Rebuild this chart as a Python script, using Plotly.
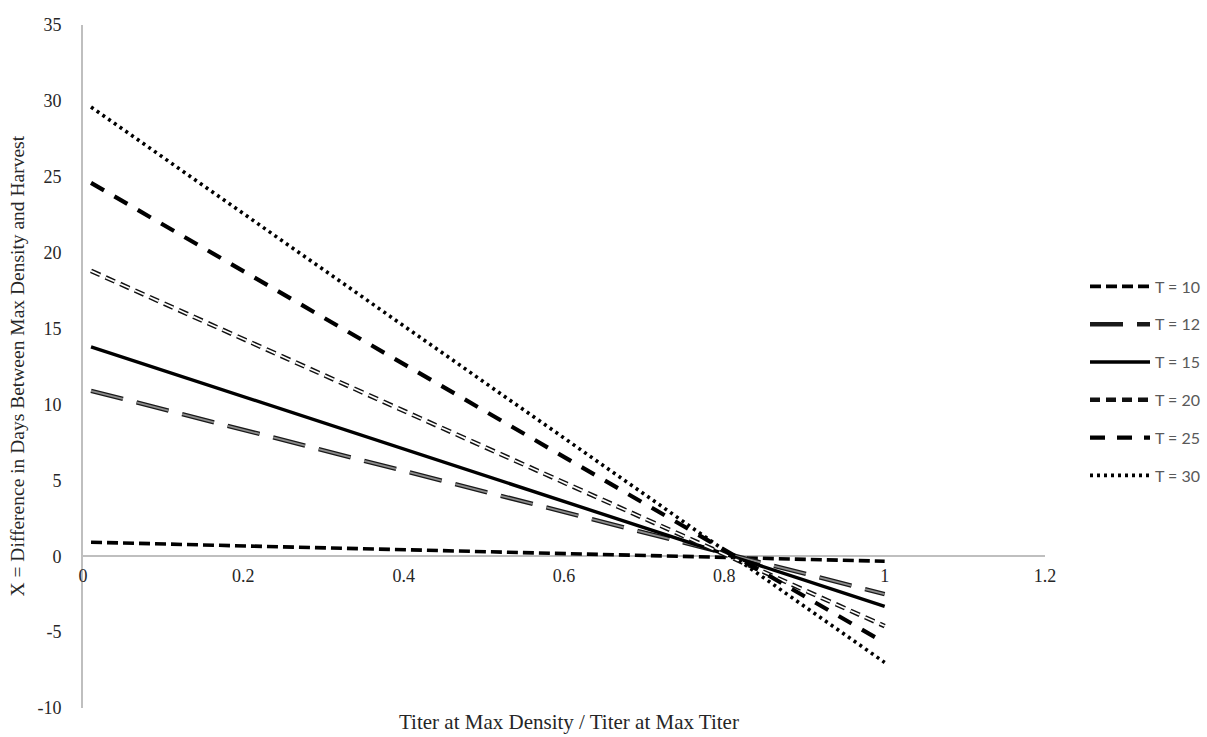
import plotly.graph_objects as go

# Ratio of titer at max density to titer at max titer (line end points)
ratio = [0.01, 1.0]

# Days between max density and harvest for each T
series_names = ["T = 10", "T = 12", "T = 15", "T = 20", "T = 25", "T = 30"]
x_days = {
    "T = 10": [0.92, -0.33],
    "T = 12": [10.9, -2.5],
    "T = 15": [13.8, -3.3],
    "T = 20": [18.8, -4.6],
    "T = 25": [24.6, -5.7],
    "T = 30": [29.6, -7.0],
}

x_ticks = [0, 0.2, 0.4, 0.6, 0.8, 1.0, 1.2]
y_ticks = [-10, -5, 0, 5, 10, 15, 20, 25, 30, 35]

# (outline colour, outline width, inner colour or None, inner width, dash)
styles = {
    "T = 10": ("#000000", 3.6, None, 0, "11px,5px"),
    "T = 12": ("#1a1a1a", 4.4, "#8c8c8c", 1.8, "33px,14px"),
    "T = 15": ("#000000", 3.4, None, 0, "solid"),
    "T = 20": ("#111111", 4.6, "#ffffff", 1.7, "10px,6px"),
    "T = 25": ("#000000", 4.2, None, 0, "15px,12px"),
    "T = 30": ("#000000", 3.6, None, 0, "3px,4px"),
}

fig = go.Figure()
for name in series_names:
    oc, ow, ic, iw, dash = styles[name]
    # outer (or only) stroke carries the legend entry
    fig.add_trace(go.Scatter(
        x=ratio, y=x_days[name], mode="lines", name=name,
        legendgroup=name, showlegend=True,
        line=dict(color=oc, width=ow, dash=dash),
        hoverinfo="skip",
    ))
    if ic is not None:
        # inner stroke gives the hollow / two-tone dash look
        fig.add_trace(go.Scatter(
            x=ratio, y=x_days[name], mode="lines", name=name,
            legendgroup=name, showlegend=False,
            line=dict(color=ic, width=iw, dash=dash),
            hoverinfo="skip",
        ))

serif = "Liberation Serif, Times New Roman, serif"
axis_grey = "#bfbfbf"
text_col = "#262626"

W, H = 1207, 737
ML, MR = 83, 162

fig.update_layout(
    width=W, height=H,
    margin=dict(l=ML, r=MR, t=25, b=29),
    paper_bgcolor="white", plot_bgcolor="white",
    showlegend=True,
    legend=dict(
        xref="container", x=1205 / W, xanchor="right",
        y=0.642, yanchor="top",
        font=dict(family="Lato, Open Sans, sans-serif", size=16, color="#595959"),
        itemwidth=60, tracegroupgap=14, bgcolor="rgba(0,0,0,0)",
    ),
    xaxis=dict(
        range=[0, 1.2], tickvals=x_ticks, ticktext=[f"{v:g}" for v in x_ticks],
        showgrid=False, zeroline=False,
        showline=True, linecolor=axis_grey, linewidth=2,
        anchor="free", position=10 / 45,
        ticks="outside", ticklen=3, tickcolor="rgba(0,0,0,0)",
        tickfont=dict(family=serif, size=18, color=text_col),
        layer="below traces",
    ),
    yaxis=dict(
        range=[-10, 35], tickvals=y_ticks, ticktext=[str(v) for v in y_ticks],
        showgrid=False, zeroline=False,
        showline=True, linecolor=axis_grey, linewidth=2,
        ticks="outside", ticklen=16, tickcolor="rgba(0,0,0,0)",
        tickfont=dict(family=serif, size=18, color=text_col),
        layer="below traces",
    ),
    annotations=[
        dict(text="Titer at Max Density / Titer at Max Titer",
             xref="paper", yref="paper", x=0.505, y=-0.0205,
             xanchor="center", yanchor="middle", showarrow=False,
             font=dict(family=serif, size=21, color=text_col)),
        dict(text="X = Difference in Days Between Max Density and Harvest",
             xref="paper", yref="paper", x=-66 / 962, y=0.5, textangle=-90,
             xanchor="center", yanchor="middle", showarrow=False,
             font=dict(family=serif, size=19.5, color=text_col)),
    ],
)

fig.write_html("out.html")
